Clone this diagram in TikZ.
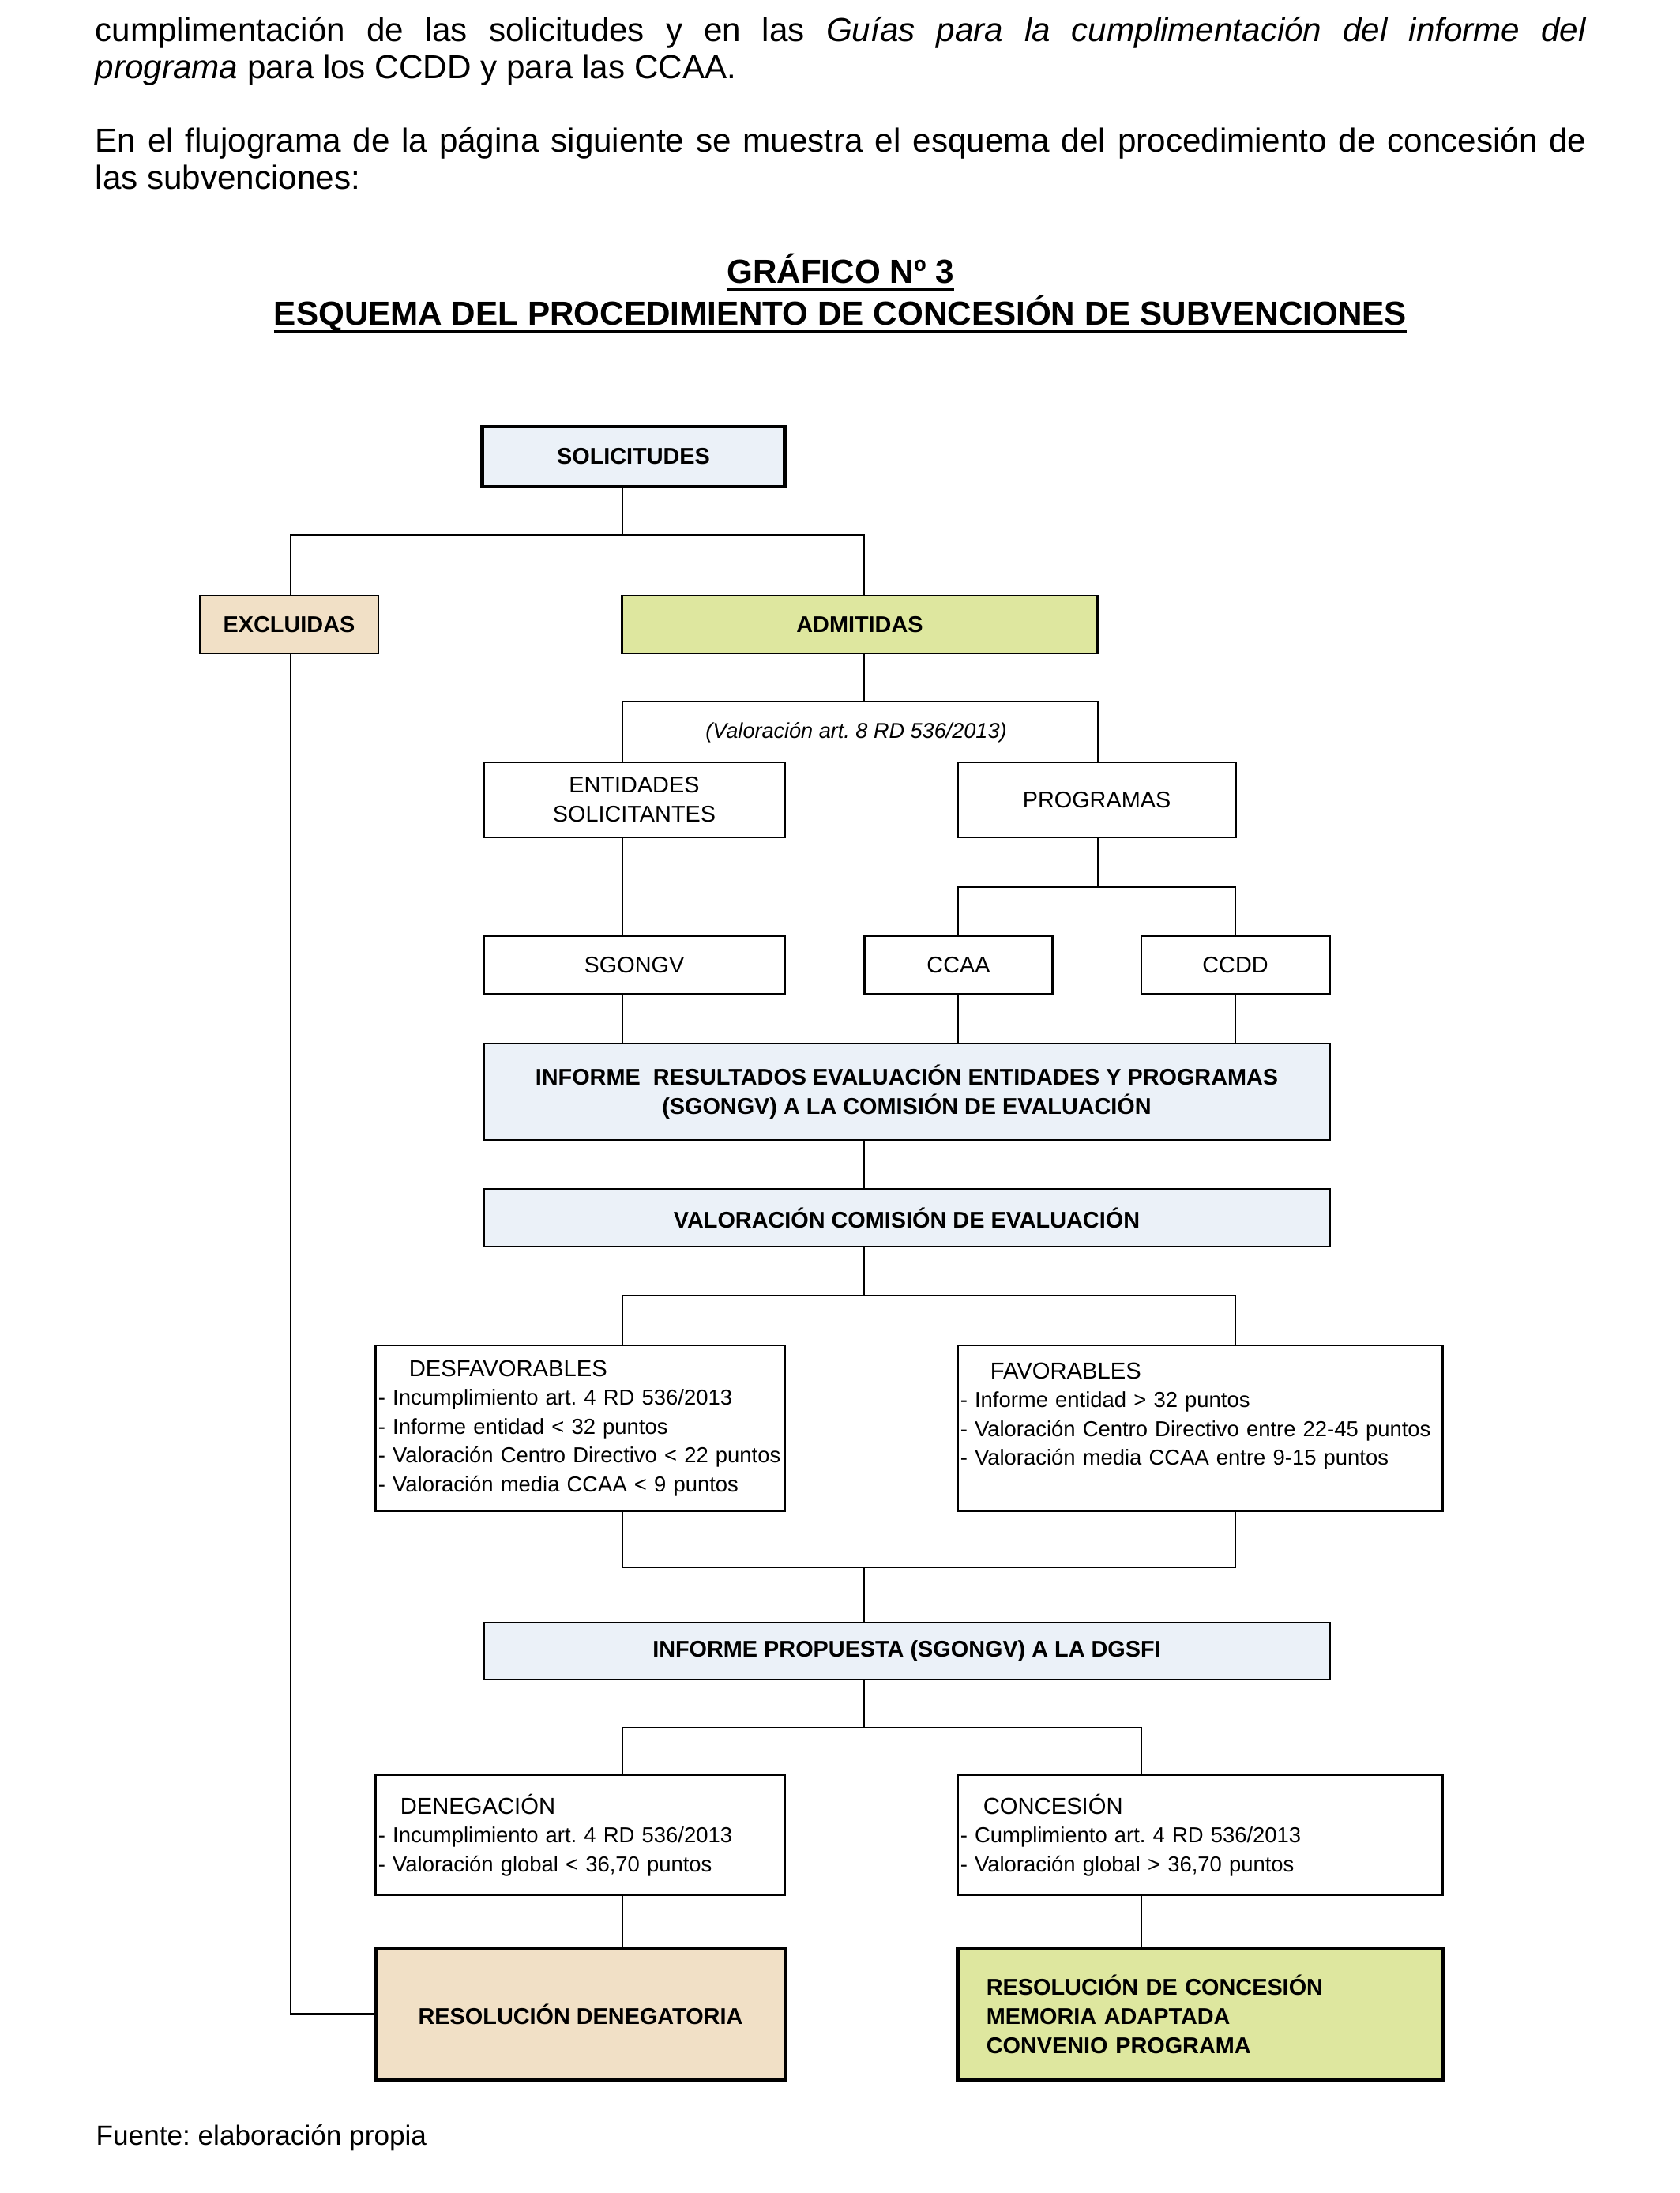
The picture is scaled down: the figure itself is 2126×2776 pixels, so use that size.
\documentclass[tikz,border=0pt]{standalone}
\usepackage{fontspec}
\setmainfont{Liberation Sans}
\definecolor{bxblue}{RGB}{235,241,248}
\definecolor{bxtan}{RGB}{241,224,198}
\definecolor{bxgreen}{RGB}{222,231,159}
\newcommand{\dgm}{\fontsize{8.2pt}{10.5pt}\selectfont}
\newcommand{\dgmlist}{\fontsize{7.8pt}{10.4pt}\selectfont}
\newcommand{\lt}[1]{{\fontsize{8.3pt}{10.4pt}\selectfont #1}}
\newcommand{\bodyfont}{\fontsize{12pt}{14pt}\selectfont}
\newsavebox\ulbox
\newcommand{\ulbold}[1]{\sbox\ulbox{#1}\rlap{\rule[-2.7pt]{\wd\ulbox}{1.1pt}}\usebox\ulbox}
\hyphenpenalty=10000
\exhyphenpenalty=10000
\frenchspacing
\begin{document}
\begin{tikzpicture}[x=0.01cm,y=-0.01cm,
  box/.style={draw=black, line width=0.8pt, inner sep=0pt, font=\dgm, align=center},
  thickbox/.style={box, line width=1.4pt},
  boldtxt/.style={font=\dgm\bfseries},
  listbox/.style={box, font=\dgmlist, align=left, inner xsep=0.03cm},
  conn/.style={draw=black, line width=0.6pt},
  bodytxt/.style={anchor=base west, inner sep=0pt, font=\bodyfont},
  titletxt/.style={anchor=base, inner sep=0pt, font=\bodyfont\bfseries}
]
\useasboundingbox (0,0) rectangle (2126,2776);

% ---- text above the chart
\node[bodytxt] (p1a) at (120,53) {\hbox to 18.87cm{cumplimentación de las solicitudes y en las \textit{Guías para la cumplimentación del informe del}}};
\node[bodytxt] (p1b) at (120,100) {\textit{programa} para los CCDD y para las CCAA.};
\node[bodytxt] (p2a) at (120,193) {\hbox to 18.87cm{En el flujograma de la página siguiente se muestra el esquema del procedimiento de concesión de}};
\node[bodytxt] (p2b) at (120,240) {las subvenciones:};

\node[titletxt] (t1) at (1064,359) {\ulbold{GRÁFICO Nº 3}};
\node[titletxt] (t2) at (1064,412) {\ulbold{ESQUEMA DEL PROCEDIMIENTO DE CONCESIÓN DE SUBVENCIONES}};

% ---- boxes
\node[thickbox, boldtxt, fill=bxblue, minimum width=3.83cm, minimum height=0.76cm] (sol) at (802,578) {SOLICITUDES};
\node[box, boldtxt, fill=bxtan, minimum width=2.26cm, minimum height=0.73cm] (excl) at (366,790.5) {EXCLUIDAS};
\node[box, boldtxt, fill=bxgreen, minimum width=6.01cm, minimum height=0.73cm] (adm) at (1088.5,790.5) {ADMITIDAS};

\node[font=\fontsize{7.7pt}{9pt}\selectfont\itshape, inner sep=0pt] (valart) at (1084,927) {(Valoración art. 8 RD 536/2013)};

\node[box, minimum width=3.80cm, minimum height=0.95cm] (ent) at (803,1012.5) {ENTIDADES\\SOLICITANTES};
\node[box, minimum width=3.51cm, minimum height=0.95cm] (prog) at (1388.5,1012.5) {PROGRAMAS};
\node[box, minimum width=3.80cm, minimum height=0.73cm] (sgo) at (803,1221.5) {SGONGV};
\node[box, minimum width=2.38cm, minimum height=0.73cm] (ccaa) at (1213.5,1221.5) {CCAA};
\node[box, minimum width=2.38cm, minimum height=0.73cm] (ccdd) at (1564,1221.5) {CCDD};

\node[box, boldtxt, fill=bxblue, minimum width=10.70cm, minimum height=1.22cm] (inf1) at (1148,1382) {INFORME\ \ RESULTADOS EVALUACIÓN ENTIDADES Y PROGRAMAS\\(SGONGV) A LA COMISIÓN DE EVALUACIÓN};
\node[box, boldtxt, fill=bxblue, minimum width=10.70cm, minimum height=0.73cm] (val) at (1148,1541.5) {VALORACIÓN COMISIÓN DE EVALUACIÓN};

\node[listbox, text width=5.11cm, minimum height=2.10cm] (desf) at (734.5,1808) {\hspace*{0.39cm}\lt{DESFAVORABLES}\\- Incumplimiento art. 4 RD 536/2013\\- Informe entidad < 32 puntos\\- Valoración Centro Directivo < 22 puntos\\- Valoración media CCAA < 9 puntos};
\node[listbox, text width=6.07cm, minimum height=2.10cm] (fav) at (1519.5,1808) {\hspace*{0.38cm}\lt{FAVORABLES}\\- Informe entidad > 32 puntos\\- Valoración Centro Directivo entre 22-45 puntos\\- Valoración media CCAA entre 9-15 puntos\\\mbox{}};

\node[box, boldtxt, fill=bxblue, minimum width=10.70cm, minimum height=0.72cm] (inf2) at (1148,2090) {INFORME PROPUESTA (SGONGV) A LA DGSFI};

\node[listbox, text width=5.11cm, minimum height=1.52cm] (den) at (734.5,2323) {\hspace*{0.28cm}\lt{DENEGACIÓN}\\- Incumplimiento art. 4 RD 536/2013\\- Valoración global < 36,70 puntos};
\node[listbox, text width=6.07cm, minimum height=1.52cm] (con) at (1519.5,2323) {\hspace*{0.29cm}\lt{CONCESIÓN}\\- Cumplimiento art. 4 RD 536/2013\\- Valoración global > 36,70 puntos};

\node[thickbox, boldtxt, fill=bxtan, minimum width=5.18cm, minimum height=1.65cm] (rden) at (735,2549.5) {RESOLUCIÓN DENEGATORIA};
\node[thickbox, boldtxt, fill=bxgreen, align=left, text width=5.41cm, inner xsep=0.36cm, minimum height=1.65cm] (rcon) at (1519.5,2549.5) {RESOLUCIÓN DE CONCESIÓN\\MEMORIA ADAPTADA\\CONVENIO PROGRAMA};

\node[bodytxt, font=\fontsize{10pt}{12pt}\selectfont] (fuente) at (121,2715) {Fuente: elaboración propia};

% ---- connector columns and rows
\coordinate (xA) at (368,0);
\coordinate (xB) at (788,0);
\coordinate (xC) at (1094,0);
\coordinate (xD) at (1213,0);
\coordinate (xE) at (1390,0);
\coordinate (xF) at (1445,0);
\coordinate (xG) at (1564,0);
\coordinate (r1) at (0,677);
\coordinate (r2) at (0,888);
\coordinate (r3) at (0,1123);
\coordinate (r4) at (0,1640);
\coordinate (r5) at (0,1984);
\coordinate (r6) at (0,2187);

% ---- connectors
\draw[conn] (sol.south -| xB) -- (xB |- r1);
\draw[conn] (excl.north -| xA) -- (xA |- r1) -- (xC |- r1) -- (adm.north -| xC);

\draw[conn] (adm.south -| xC) -- (xC |- r2);
\draw[conn] (ent.north -| xB) -- (xB |- r2) -- (xE |- r2) -- (prog.north -| xE);

\draw[conn] (ent.south -| xB) -- (sgo.north -| xB);
\draw[conn] (prog.south -| xE) -- (xE |- r3);
\draw[conn] (ccaa.north -| xD) -- (xD |- r3) -- (xG |- r3) -- (ccdd.north -| xG);

\draw[conn] (sgo.south -| xB) -- (inf1.north -| xB);
\draw[conn] (ccaa.south -| xD) -- (inf1.north -| xD);
\draw[conn] (ccdd.south -| xG) -- (inf1.north -| xG);

\draw[conn] (inf1.south -| xC) -- (val.north -| xC);

\draw[conn] (val.south -| xC) -- (xC |- r4);
\draw[conn] (desf.north -| xB) -- (xB |- r4) -- (xG |- r4) -- (fav.north -| xG);

\draw[conn] (desf.south -| xB) -- (xB |- r5) -- (xG |- r5) -- (fav.south -| xG);
\draw[conn] (xC |- r5) -- (inf2.north -| xC);

\draw[conn] (inf2.south -| xC) -- (xC |- r6);
\draw[conn] (den.north -| xB) -- (xB |- r6) -- (xF |- r6) -- (con.north -| xF);

\draw[conn] (den.south -| xB) -- (rden.north -| xB);
\draw[conn] (con.south -| xF) -- (rcon.north -| xF);

\draw[conn] (excl.south -| xA) |- (rden.west);
\end{tikzpicture}
\end{document}
